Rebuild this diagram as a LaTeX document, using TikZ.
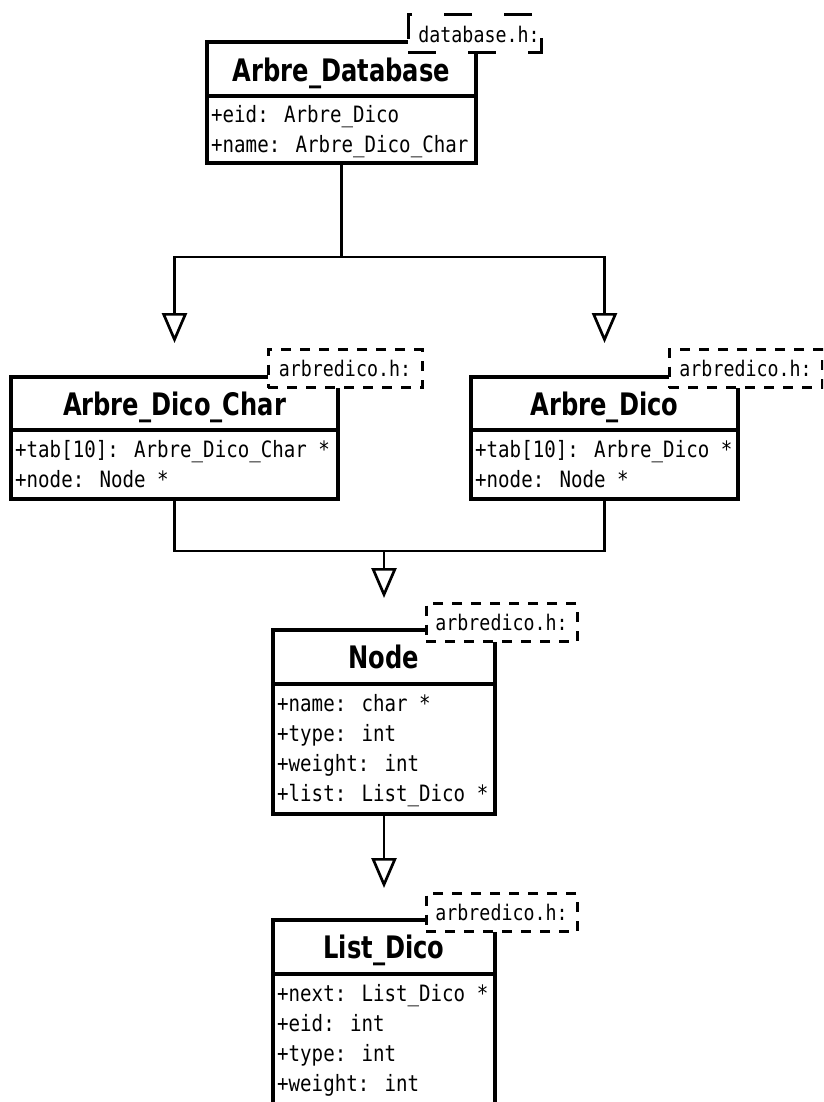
\documentclass[tikz,border=0pt]{standalone}
\usepackage{fontspec}
\usetikzlibrary{arrows.meta}
\newfontfamily\attrfont[FakeStretch=0.85]{DejaVu Sans Mono}
\newfontfamily\titlefont[FakeStretch=0.78]{DejaVu Sans}

\begin{document}
\begin{tikzpicture}[x=1pt,y=-1pt,
  classbox/.style={draw, line width=3.2pt, fill=white, inner sep=0pt, outer sep=0pt, anchor=north west},
  classrule/.style={line width=3.2pt},
  classtitle/.style={inner sep=0pt, anchor=base, font=\titlefont\bfseries\fontsize{31pt}{36pt}\selectfont},
  attr/.style={inner sep=0pt, anchor=base west, font=\attrfont\fontsize{22.5pt}{30pt}\selectfont},
  filetag/.style={draw, fill=white, line width=3pt, inner sep=0pt, outer sep=0pt,
    minimum height=38pt, dash pattern=on 10pt off 9pt,
    font=\attrfont\fontsize{21.5pt}{26pt}\selectfont},
  link/.style={line width=2.7pt},
  gen/.style={line width=2.7pt, -{Triangle[length=30pt, width=25pt, fill=white]}},
]
\useasboundingbox (0,0) rectangle (823,1102);
\fill[white] (0,0) rectangle (823,1102);
\clip (0,0) rectangle (823,1102);

% ---------- classes ----------
% Arbre_Database
\node[classbox, minimum width=269pt, minimum height=121pt] (db) at (207,42) {};
\draw[classrule] (db.west |- 0,96) -- (db.east |- 0,96);
\node[classtitle] (db-t) at (341.5,82) {Arbre\_Database};
\node[attr] (db-a1) at (211,123) {+eid: Arbre\_Dico};
\node[attr] (db-a2) at (211,153) {+name: Arbre\_Dico\_Char};

% Arbre_Dico_Char
\node[classbox, minimum width=327pt, minimum height=122pt] (adc) at (11,377) {};
\draw[classrule] (adc.west |- 0,430) -- (adc.east |- 0,430);
\node[classtitle] (adc-t) at (174.5,415.5) {Arbre\_Dico\_Char};
\node[attr] (adc-a1) at (15,457) {+tab[10]: Arbre\_Dico\_Char *};
\node[attr] (adc-a2) at (15,487) {+node: Node *};

% Arbre_Dico
\node[classbox, minimum width=267pt, minimum height=122pt] (ad) at (471,377) {};
\draw[classrule] (ad.west |- 0,430) -- (ad.east |- 0,430);
\node[classtitle] (ad-t) at (604.5,415.5) {Arbre\_Dico};
\node[attr] (ad-a1) at (475,457) {+tab[10]: Arbre\_Dico *};
\node[attr] (ad-a2) at (475,487) {+node: Node *};

% Node
\node[classbox, minimum width=222pt, minimum height=184pt] (nd) at (273,630) {};
\draw[classrule] (nd.west |- 0,684) -- (nd.east |- 0,684);
\node[classtitle] (nd-t) at (384,668.5) {Node};
\node[attr] (nd-a1) at (277,711) {+name: char *};
\node[attr] (nd-a2) at (277,741) {+type: int};
\node[attr] (nd-a3) at (277,771) {+weight: int};
\node[attr] (nd-a4) at (277,801) {+list: List\_Dico *};

% List_Dico (runs past the lower edge)
\node[classbox, minimum width=222pt, minimum height=200pt] (ld) at (273,920) {};
\draw[classrule] (ld.west |- 0,974) -- (ld.east |- 0,974);
\node[classtitle] (ld-t) at (384,958.5) {List\_Dico};
\node[attr] (ld-a1) at (277,1001) {+next: List\_Dico *};
\node[attr] (ld-a2) at (277,1031) {+eid: int};
\node[attr] (ld-a3) at (277,1061) {+type: int};
\node[attr] (ld-a4) at (277,1091) {+weight: int};

% ---------- header file tags ----------
\node[filetag, minimum width=133pt, dash pattern=on 28pt off 32pt] (db-tag) at (474.5,34) {\hspace*{9pt}database.h:};
\node[filetag, minimum width=154pt] (adc-tag) at (345,368.5) {arbredico.h:};
\node[filetag, minimum width=153pt] (ad-tag) at (745.5,368.5) {arbredico.h:};
\node[filetag, minimum width=151pt] (nd-tag) at (501.5,622.5) {arbredico.h:};
\node[filetag, minimum width=151pt] (ld-tag) at (501.5,912.5) {arbredico.h:};

% ---------- connectors ----------
\coordinate (j1) at (341.5,257);
\draw[link] (db.south) -- (j1);
\draw[gen, shorten >=34pt] (j1) -| (adc.north);
\draw[gen, shorten >=34pt] (j1) -| (ad.north);

\coordinate (j2) at (384,551);
\draw[link] (adc.south) |- (j2) -| (ad.south);
\draw[gen, shorten >=32pt] (j2) -- (nd.north);

\draw[gen, shorten >=32pt] (nd.south) -- (ld.north);
\end{tikzpicture}
\end{document}
